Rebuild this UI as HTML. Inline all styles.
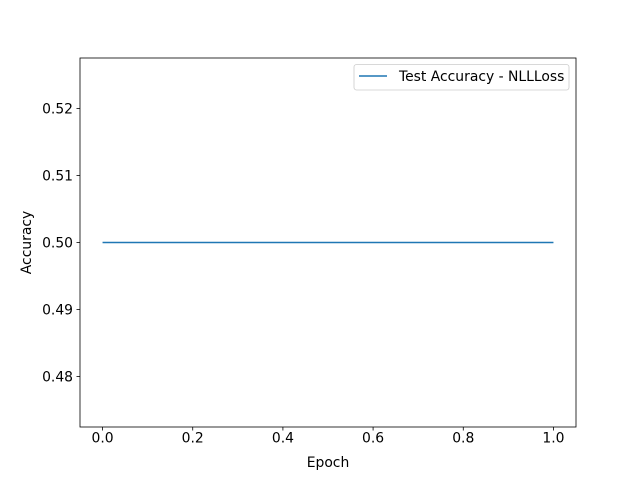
<!DOCTYPE html>
<html><head><meta charset="utf-8"><style>
body{margin:0;background:#fff;}
svg{display:block;font-family:"DejaVu Sans","Liberation Sans",sans-serif;}
</style></head><body>
<svg id="chart" width="640" height="480">
<rect width="640" height="480" fill="#fff"/>
</svg>
<script>
const epochs=[0,1];
const accuracy=[0.5,0.5];
const xTicks=[0.0,0.2,0.4,0.6,0.8,1.0];
const yTicks=[0.48,0.49,0.50,0.51,0.52];
const L=80,R=576,T=58,B=427;
const xMin=-0.05,xMax=1.05,yMin=0.47246,yMax=0.52754;
const sx=v=>L+(v-xMin)/(xMax-xMin)*(R-L);
const sy=v=>B-(v-yMin)/(yMax-yMin)*(B-T);
const svg=document.getElementById('chart');
const NS='http://www.w3.org/2000/svg';
const FS=13.9;
function mk(t,a,p){const e=document.createElementNS(NS,t);for(const k in a)e.setAttribute(k,a[k]);(p||svg).appendChild(e);return e;}
xTicks.forEach(v=>{
 const x=sx(v);
 const t=mk('line',{x1:x,x2:x,y1:B,y2:B+3.5,stroke:'#000','stroke-width':0.8});
 
 
 const l=mk('text',{x:x,y:B+15.5,'font-size':FS,'text-anchor':'middle'});
 l.textContent=v.toFixed(1);
 
 
});
yTicks.forEach(v=>{
 const y=sy(v);
 const t=mk('line',{x1:L-3.5,x2:L,y1:y,y2:y,stroke:'#000','stroke-width':0.8});
 
 
 const l=mk('text',{x:L-7,y:y+5,'font-size':FS,'text-anchor':'end'});
 l.textContent=v.toFixed(2);
 
 
});
const line=mk('polyline',{points:epochs.map((e,i)=>sx(e)+','+sy(accuracy[i])).join(' '),fill:'none',stroke:'#1f77b4','stroke-width':1.5});


const frame=mk('rect',{x:L,y:T,width:R-L,height:B-T,fill:'none',stroke:'#000','stroke-width':0.8});


const xt=mk('text',{x:(L+R)/2,y:467,'font-size':FS,'text-anchor':'middle'});
xt.textContent='Epoch';


const yt=mk('text',{x:0,y:0,'font-size':FS,'text-anchor':'middle',transform:'translate(31,'+((T+B)/2)+') rotate(-90)'});
yt.textContent='Accuracy';


const lg=mk('g',{});


mk('rect',{x:354,y:64.5,width:215,height:25.5,rx:2.5,fill:'#fff','fill-opacity':0.8,stroke:'#ccc','stroke-width':0.8},lg);
const ll=mk('line',{x1:359,x2:387,y1:76,y2:76,stroke:'#1f77b4','stroke-width':1.5},lg);


const lt=mk('text',{x:399,y:81,'font-size':FS},lg);
lt.textContent='Test Accuracy - NLLLoss';


</script>
</body></html>
